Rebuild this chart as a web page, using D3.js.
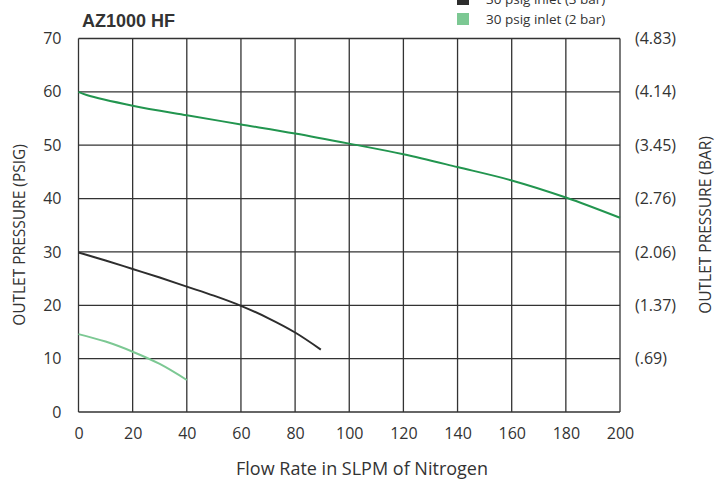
<!DOCTYPE html>
<html>
<head>
<meta charset="utf-8">
<script src="https://cdn.jsdelivr.net/npm/d3@7"></script>
<style>
  body { margin: 0; background: #fff; }
  svg { display: block; font-family: "Open Sans", "Noto Sans", sans-serif; }
</style>
</head>
<body>
<figure id="chart" style="margin:0"></figure>
<script>
// flow (SLPM) values
const flow3bar = [0, 10, 20, 30, 40, 50, 60, 70, 80, 89.5];
const psig3bar = [29.9, 28.4, 26.8, 25.2, 23.5, 21.8, 19.9, 17.6, 14.9, 11.7];

const flow2bar = [0, 10, 20, 30, 40];
const psig2bar = [14.6, 13.2, 11.3, 9.0, 6.0];

const flowHF = [0, 3, 20, 40, 60, 80, 100, 120, 140, 160, 180, 200];
const psigHF = [60.0, 59.4, 57.4, 55.6, 53.9, 52.2, 50.3, 48.3, 45.9, 43.4, 40.2, 36.4];

const xTicks = [0, 20, 40, 60, 80, 100, 120, 140, 160, 180, 200];
const yTicks = [0, 10, 20, 30, 40, 50, 60, 70];
const barLabels = ["", "(.69)", "(1.37)", "(2.06)", "(2.76)", "(3.45)", "(4.14)", "(4.83)"];

const legendNames = ["30 psig inlet (3 bar)", "30 psig inlet (2 bar)"];

const width = 717, height = 479;
const margin = { top: 38.5, right: 97, bottom: 67, left: 78.5 };
const innerW = width - margin.left - margin.right;
const innerH = height - margin.top - margin.bottom;

const svg = d3.select("figure#chart")
  .append("svg")
  .attr("width", width)
  .attr("height", height);

const g = svg.append("g")
  .attr("transform", "translate(" + margin.left + "," + margin.top + ")");

const x = d3.scaleLinear().domain([0, 200]).range([0, innerW]);
const y = d3.scaleLinear().domain([0, 70]).range([innerH, 0]);

// grid
g.append("g")
  .selectAll("line")
  .data(xTicks)
  .enter()
  .append("line")
  .attr("x1", d => x(d)).attr("x2", d => x(d))
  .attr("y1", 0).attr("y2", innerH)
  .attr("stroke", "#333").attr("stroke-width", 1.3);

g.append("g")
  .selectAll("line")
  .data(yTicks)
  .enter()
  .append("line")
  .attr("x1", 0).attr("x2", innerW)
  .attr("y1", d => y(d)).attr("y2", d => y(d))
  .attr("stroke", "#333").attr("stroke-width", 1.3);

// axes (labels only, grid does the lines)
const xAxis = g.append("g")
  .attr("transform", "translate(0," + innerH + ")")
  .call(d3.axisBottom(x).tickValues(xTicks).tickSize(0).tickPadding(16));
const yAxis = g.append("g")
  .call(d3.axisLeft(y).tickValues(yTicks).tickSize(0).tickPadding(17));
const yAxisR = g.append("g")
  .attr("transform", "translate(" + innerW + ",0)")
  .call(d3.axisRight(y).tickValues(yTicks).tickSize(0).tickPadding(15)
    .tickFormat((d, i) => barLabels[i]));

[xAxis, yAxis, yAxisR].forEach(a => {
  a.select(".domain").remove();
  a.selectAll("text")
    .attr("font-family", "\"Open Sans\", sans-serif")
    .attr("font-size", 16)
    .attr("fill", "#333");
});

// curves
const line = d3.line()
  .x(d => x(d[0]))
  .y(d => y(d[1]))
  .curve(d3.curveCatmullRom);

const series = [
  { flow: flow3bar, psig: psig3bar, color: "#2d2d2d" },
  { flow: flow2bar, psig: psig2bar, color: "#7cc893" },
  { flow: flowHF, psig: psigHF, color: "#22954f" }
];

g.selectAll("path.curve")
  .data(series)
  .enter()
  .append("path")
  .attr("class", "curve")
  .attr("d", s => line(s.flow.map((f, i) => [f, s.psig[i]])))
  .attr("fill", "none")
  .attr("stroke", s => s.color)
  .attr("stroke-width", 2);

// title
svg.append("text")
  .attr("x", 82).attr("y", 27)
  .attr("font-family", "\"Liberation Sans\", Arial, sans-serif")
  .attr("font-weight", "bold")
  .attr("font-size", 18)
  .attr("fill", "#333")
  .text("AZ1000 HF");

// axis titles
svg.append("text")
  .attr("x", 362)
  .attr("y", 475)
  .attr("text-anchor", "middle")
  .attr("font-size", 18)
  .attr("fill", "#333")
  .text("Flow Rate in SLPM of Nitrogen");

svg.append("text")
  .attr("transform", "translate(25,235)rotate(-90)")
  .attr("text-anchor", "middle")
  .attr("font-size", 15.5)
  .attr("fill", "#333")
  .text("OUTLET PRESSURE (PSIG)");

svg.append("text")
  .attr("transform", "translate(711,225)rotate(-90)")
  .attr("text-anchor", "middle")
  .attr("font-size", 15.5)
  .attr("fill", "#333")
  .text("OUTLET PRESSURE (BAR)");

// legend
const legend = svg.append("g")
  .selectAll("g")
  .data(legendNames)
  .enter()
  .append("g")
  .attr("transform", (d, i) => "translate(457," + (i * 20 - 1) + ")");

legend.append("rect")
  .attr("x", 0).attr("y", -6)
  .attr("width", 12).attr("height", 12)
  .attr("fill", (d, i) => i === 0 ? "#2d2d2d" : "#7cc893");

legend.append("text")
  .attr("x", 29).attr("y", 5)
  .attr("font-size", 13.5)
  .attr("fill", "#333")
  .text(d => d);
</script>
</body>
</html>
